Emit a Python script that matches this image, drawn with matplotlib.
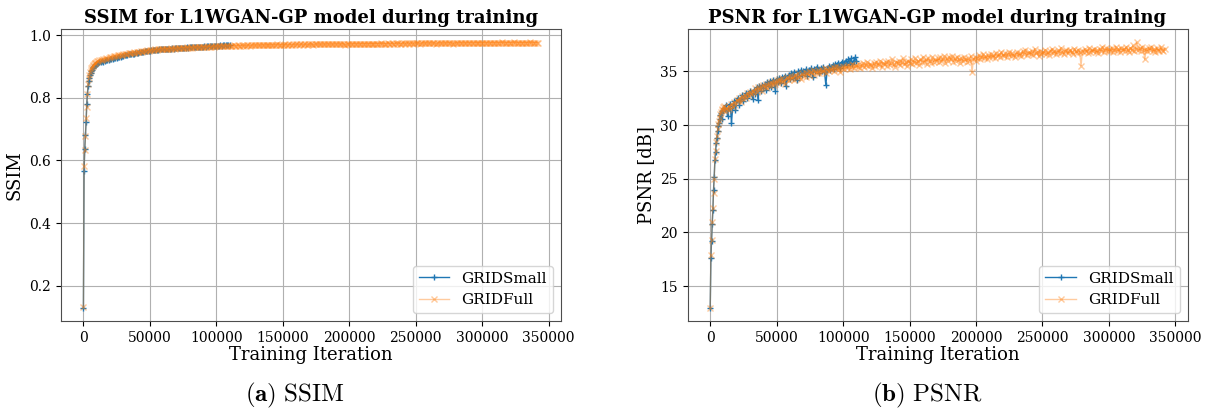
import numpy as np
import matplotlib
matplotlib.use("Agg")
import matplotlib.pyplot as plt

plt.rcParams["font.family"] = ["DejaVu Serif"]
plt.rcParams["mathtext.fontset"] = "cm"

# Evaluation iterations: every 500 steps up to 10k, then every 1000 steps
small_iter = np.concatenate([np.arange(0, 10001, 500), np.arange(11000, 110001, 1000)])
full_iter = np.concatenate([np.arange(0, 10001, 500), np.arange(11000, 342001, 1000)])

ssim_small = [
    0.130, 0.567, 0.638, 0.680, 0.722, 0.780, 0.812, 0.836, 0.852, 0.864,
    0.872, 0.880, 0.885, 0.890, 0.894, 0.897, 0.900, 0.903, 0.905, 0.907, 0.909,
    0.911, 0.913, 0.914, 0.916, 0.915, 0.918, 0.919, 0.920, 0.921, 0.923,
    0.923, 0.925, 0.926, 0.926, 0.928, 0.929, 0.930, 0.931, 0.933, 0.934,
    0.935, 0.936, 0.937, 0.938, 0.939, 0.940, 0.941, 0.941, 0.943, 0.944,
    0.944, 0.945, 0.946, 0.946, 0.947, 0.948, 0.948, 0.949, 0.950, 0.950,
    0.951, 0.951, 0.952, 0.952, 0.953, 0.953, 0.954, 0.954, 0.955, 0.955,
    0.955, 0.956, 0.956, 0.957, 0.956, 0.957, 0.958, 0.957, 0.958, 0.958,
    0.959, 0.958, 0.959, 0.960, 0.959, 0.960, 0.960, 0.961, 0.960, 0.961,
    0.961, 0.962, 0.961, 0.962, 0.962, 0.963, 0.962, 0.963, 0.963, 0.963,
    0.964, 0.963, 0.964, 0.964, 0.965, 0.964, 0.965, 0.965, 0.966, 0.965,
    0.966, 0.966, 0.967, 0.966, 0.967, 0.967, 0.968, 0.967, 0.968, 0.968,
]

ssim_full = [
    0.132, 0.583, 0.632, 0.678, 0.735, 0.772, 0.812, 0.845, 0.864, 0.874,
    0.883, 0.889, 0.894, 0.898, 0.902, 0.905, 0.908, 0.910, 0.912, 0.914, 0.916,
    0.918, 0.920, 0.919, 0.922, 0.923, 0.924, 0.926, 0.925, 0.928, 0.929,
    0.930, 0.931, 0.933, 0.932, 0.934, 0.935, 0.936, 0.937, 0.936, 0.939,
    0.940, 0.939, 0.941, 0.942, 0.943, 0.942, 0.944, 0.945, 0.944, 0.946,
    0.947, 0.946, 0.948, 0.947, 0.949, 0.950, 0.949, 0.951, 0.950, 0.952,
    0.952, 0.953, 0.952, 0.954, 0.953, 0.955, 0.954, 0.955, 0.956, 0.955,
    0.956, 0.955, 0.957, 0.956, 0.957, 0.958, 0.956, 0.958, 0.957, 0.958,
    0.959, 0.958, 0.959, 0.960, 0.959, 0.960, 0.959, 0.961, 0.960, 0.960,
    0.961, 0.960, 0.962, 0.961, 0.961, 0.962, 0.961, 0.962, 0.963, 0.962,
    0.962, 0.963, 0.962, 0.964, 0.963, 0.963, 0.964, 0.963, 0.965, 0.964,
    0.964, 0.965, 0.964, 0.965, 0.966, 0.964, 0.965, 0.966, 0.965, 0.966,
    0.965, 0.966, 0.967, 0.965, 0.966, 0.967, 0.966, 0.966, 0.967, 0.966,
    0.967, 0.966, 0.967, 0.968, 0.966, 0.967, 0.968, 0.967, 0.967, 0.968,
    0.967, 0.968, 0.967, 0.968, 0.969, 0.967, 0.968, 0.968, 0.969, 0.968,
    0.968, 0.969, 0.968, 0.969, 0.968, 0.970, 0.968, 0.969, 0.969, 0.968,
    0.969, 0.970, 0.968, 0.969, 0.970, 0.969, 0.969, 0.970, 0.969, 0.970,
    0.970, 0.969, 0.970, 0.971, 0.969, 0.970, 0.970, 0.969, 0.971, 0.970,
    0.970, 0.971, 0.969, 0.970, 0.971, 0.970, 0.971, 0.970, 0.970, 0.971,
    0.971, 0.970, 0.971, 0.972, 0.970, 0.971, 0.971, 0.970, 0.972, 0.971,
    0.971, 0.972, 0.970, 0.971, 0.972, 0.971, 0.969, 0.971, 0.972, 0.971,
    0.972, 0.971, 0.972, 0.973, 0.971, 0.972, 0.972, 0.971, 0.973, 0.972,
    0.972, 0.973, 0.971, 0.972, 0.973, 0.972, 0.973, 0.972, 0.972, 0.973,
    0.973, 0.972, 0.973, 0.974, 0.972, 0.973, 0.973, 0.972, 0.974, 0.973,
    0.973, 0.974, 0.972, 0.973, 0.974, 0.973, 0.974, 0.973, 0.973, 0.974,
    0.974, 0.973, 0.974, 0.975, 0.973, 0.974, 0.974, 0.973, 0.975, 0.974,
    0.974, 0.975, 0.973, 0.974, 0.975, 0.974, 0.974, 0.975, 0.974, 0.974,
    0.975, 0.974, 0.974, 0.975, 0.973, 0.974, 0.975, 0.974, 0.975, 0.974,
    0.974, 0.975, 0.974, 0.975, 0.976, 0.974, 0.975, 0.972, 0.975, 0.974,
    0.975, 0.974, 0.975, 0.976, 0.974, 0.975, 0.975, 0.974, 0.976, 0.975,
    0.975, 0.976, 0.974, 0.975, 0.976, 0.975, 0.975, 0.976, 0.975, 0.975,
    0.976, 0.975, 0.975, 0.976, 0.974, 0.975, 0.976, 0.975, 0.976, 0.975,
    0.975, 0.976, 0.975, 0.976, 0.977, 0.975, 0.976, 0.975, 0.976, 0.976,
    0.976, 0.975, 0.976, 0.977, 0.975, 0.976, 0.976, 0.975, 0.976, 0.975,
    0.976, 0.975, 0.976, 0.976, 0.975, 0.977, 0.975, 0.976, 0.976, 0.975,
    0.976, 0.975,
]

psnr_small = [
    13.0, 17.6, 19.2, 20.8, 22.1, 24.0, 25.2, 26.7, 27.5, 28.3,
    28.8, 29.4, 29.9, 30.2, 30.6, 30.9, 31.1, 30.6, 31.3, 31.4, 31.6,
    31.5, 31.9, 30.8, 31.6, 32.0, 30.2, 31.8, 32.2, 31.4, 32.3,
    32.5, 31.9, 32.4, 32.8, 32.2, 32.7, 33.0, 32.5, 32.9, 33.2,
    33.0, 32.4, 33.3, 32.9, 33.5, 32.3, 33.6, 33.2, 33.7, 33.4,
    33.8, 33.3, 34.0, 33.6, 34.1, 33.5, 34.2, 33.9, 33.2, 34.3,
    34.0, 34.4, 33.9, 34.5, 34.2, 34.6, 33.6, 34.4, 34.7, 34.3,
    34.8, 34.4, 34.9, 34.5, 34.2, 35.0, 34.6, 35.1, 34.7, 35.0,
    34.8, 35.2, 34.6, 35.1, 34.9, 35.3, 34.5, 35.2, 35.0, 35.4,
    35.1, 34.8, 35.3, 35.0, 35.4, 34.9, 33.7, 35.2, 35.5, 35.1,
    35.4, 35.6, 35.2, 35.7, 35.4, 35.8, 35.5, 35.3, 35.9, 35.6,
    35.8, 36.0, 35.6, 36.1, 35.8, 36.2, 35.7, 36.0, 36.3, 36.0,
]

psnr_full = [
    13.0, 17.9, 19.3, 21.0, 22.3, 23.7, 25.0, 26.8, 27.6, 28.4,
    29.0, 29.6, 30.1, 30.4, 30.7, 31.0, 31.2, 31.4, 31.5, 31.7, 31.8,
    31.3, 31.6, 31.4, 31.8, 31.5, 32.0, 31.7, 32.1, 31.9, 32.3,
    32.2, 32.5, 32.1, 32.7, 32.4, 32.8, 32.5, 33.0, 32.7, 33.1,
    32.9, 33.2, 33.0, 33.4, 33.1, 33.5, 33.3, 33.6, 33.2, 33.7,
    33.5, 33.8, 33.4, 33.9, 33.6, 34.0, 33.7, 34.1, 33.8, 34.2,
    33.9, 34.3, 34.0, 34.4, 34.1, 33.8, 34.3, 34.5, 34.2, 34.6,
    34.3, 34.6, 34.2, 34.7, 34.4, 34.8, 34.5, 34.3, 34.8, 34.6,
    34.9, 34.5, 34.8, 35.0, 34.6, 34.9, 35.1, 34.7, 35.0, 34.8,
    35.1, 34.8, 35.2, 34.9, 35.0, 35.3, 34.8, 35.2, 35.0, 35.3,
    35.1, 35.4, 35.0, 35.3, 35.5, 35.1, 35.4, 34.9, 35.3, 35.5,
    35.2, 35.5, 35.3, 35.6, 35.2, 35.4, 35.7, 35.3, 35.5, 35.6,
    35.4, 35.7, 35.3, 35.6, 35.8, 35.4, 35.6, 35.9, 35.5, 35.7,
    35.6, 35.3, 35.8, 35.5, 35.9, 35.6, 35.7, 36.0, 35.4, 35.8,
    35.7, 35.9, 35.5, 36.0, 35.6, 35.8, 36.1, 35.7, 35.4, 35.9,
    35.8, 36.0, 35.6, 35.9, 36.2, 35.7, 35.9, 35.5, 36.0, 35.8,
    36.1, 35.7, 35.9, 36.2, 35.8, 36.0, 35.6, 36.1, 35.9, 36.3,
    35.9, 36.1, 35.7, 36.2, 36.0, 35.8, 36.3, 35.9, 36.1, 36.0,
    36.2, 35.9, 36.3, 36.0, 36.1, 36.4, 35.8, 36.2, 36.0, 36.3,
    36.1, 36.4, 35.9, 36.2, 36.0, 36.3, 36.1, 35.8, 36.2, 36.0,
    36.3, 36.1, 35.9, 36.2, 36.0, 36.4, 34.9, 36.1, 36.3, 36.0,
    36.2, 36.5, 36.1, 36.3, 36.6, 36.2, 36.4, 36.1, 36.5, 36.3,
    36.6, 36.3, 36.5, 36.2, 36.7, 36.4, 36.6, 36.3, 36.8, 36.5,
    36.4, 36.7, 36.3, 36.6, 36.8, 36.4, 36.7, 36.5, 36.3, 36.6,
    36.8, 36.5, 36.7, 36.4, 36.9, 36.6, 37.0, 36.5, 36.7, 36.8,
    36.6, 36.9, 36.5, 37.1, 36.7, 36.8, 36.4, 36.9, 36.6, 36.8,
    36.7, 37.0, 36.6, 36.8, 36.5, 36.9, 37.1, 36.7, 36.9, 36.6,
    36.8, 37.0, 36.7, 37.2, 36.8, 36.6, 36.9, 37.0, 36.7, 36.9,
    37.0, 36.8, 36.6, 37.1, 36.9, 36.7, 37.0, 36.8, 35.5, 36.9,
    36.8, 37.1, 36.9, 36.7, 37.2, 36.8, 37.0, 36.9, 37.1, 36.8,
    37.0, 36.7, 37.1, 36.9, 37.3, 36.8, 37.0, 37.2, 36.9, 37.1,
    36.9, 37.2, 36.8, 37.0, 37.3, 36.9, 37.1, 36.8, 37.2, 37.0,
    37.1, 36.9, 37.3, 37.0, 36.8, 37.2, 37.0, 37.4, 36.9, 37.1,
    37.7, 37.0, 37.2, 36.9, 37.3, 37.0, 36.1, 37.1, 36.9, 37.2,
    37.0, 37.3, 36.9, 37.1, 36.8, 37.2, 37.0, 36.9, 37.3, 37.0,
    36.9, 37.1,
]

series_labels = ["GRIDSmall", "GRIDFull"]
titles = ["SSIM for L1WGAN-GP model during training",
          "PSNR for L1WGAN-GP model during training"]
ylabels = ["SSIM", "PSNR [dB]"]
captions = [r"$\mathbf{(a)}\ \mathrm{SSIM}$", r"$\mathbf{(b)}\ \mathrm{PSNR}$"]
xlabel = "Training Iteration"

fig = plt.figure(figsize=(12.09, 4.08), dpi=100)
W, H = 1209, 408
axes = [
    fig.add_axes([60.7 / W, (H - 321) / H, 500 / W, 292 / H]),
    fig.add_axes([687.5 / W, (H - 321) / H, 500 / W, 292 / H]),
]

panels = [(ssim_small, ssim_full), (psnr_small, psnr_full)]
for ax, (ys, yf), title, yl in zip(axes, panels, titles, ylabels):
    ax.plot(small_iter, ys, color="#1f77b4", marker="+", markersize=5,
            linewidth=1.0, label=series_labels[0], zorder=2)
    ax.plot(full_iter, yf, color="#ff7f0e", marker="x", markersize=5,
            linewidth=1.0, alpha=0.4, label=series_labels[1], zorder=3)
    ax.grid(True, color="#b0b0b0", linewidth=0.8)
    ax.set_axisbelow(True)
    ax.set_title(title, fontsize=13, fontweight="bold", pad=4)
    ax.set_xlabel(xlabel, fontsize=13, labelpad=1)
    ax.set_ylabel(yl, fontsize=13)
    ax.tick_params(labelsize=10)
    ax.set_xticks(np.arange(0, 350001, 50000))
    for sp in ax.spines.values():
        sp.set_color("0.3")
    ax.legend(loc="lower right", fontsize=11)

fig.text(295 / W, 1 - 395 / H, captions[0], fontsize=18, ha="center", va="center")
fig.text(927 / W, 1 - 395 / H, captions[1], fontsize=18, ha="center", va="center")

fig.savefig("out.png", dpi=100)
